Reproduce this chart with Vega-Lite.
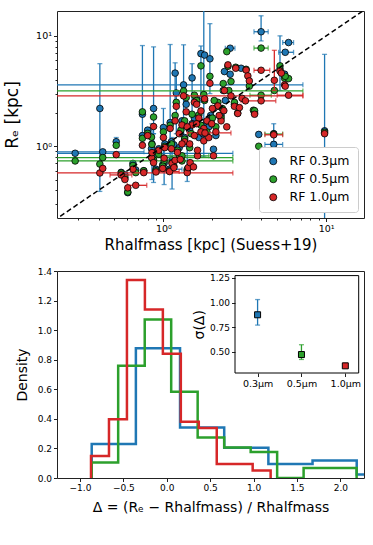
{
"$schema":"https://vega.github.io/schema/vega-lite/v6.json",
"padding":{"left":3,"top":10,"right":5,"bottom":5},
"config":{"font":"DejaVu Sans","view":{"stroke":"#222"},"axis":{"grid":false,"domain":false,"tickColor":"#222","labelColor":"#000","titleColor":"#000","titleFontWeight":"normal","labelFontSize":9,"tickSize":3.5,"labelPadding":2}},
"datasets":{
"blue":[
{"x":0.287,"y":0.864,"xl":0.15,"xh":2.67},{"x":0.424,"y":0.89,"xl":0.15,"xh":0.76},{"x":0.407,"y":2.2,"yl":0.39,"yh":5.6},{"x":0.513,"y":1.10,"yl":0.98,"yh":1.2},{"x":0.55,"y":0.58},{"x":0.604,"y":0.38},{"x":0.58,"y":0.55},{"x":0.65,"y":0.7},{"x":0.676,"y":0.61},{"x":0.757,"y":0.6},{"x":0.743,"y":1.95,"yl":1.0,"yh":8.17},{"x":0.743,"y":1.25},{"x":0.87,"y":2.2,"yl":1.3,"yh":7.95},{"x":0.8,"y":1.4},{"x":0.845,"y":0.95},{"x":0.85,"y":1.05,"yl":0.5,"yh":1.6},{"x":0.87,"y":0.8,"yl":0.47,"yh":1.3},{"x":0.9,"y":0.62},{"x":0.936,"y":0.95},{"x":1.0,"y":1.48,"yl":0.6,"yh":2.2},{"x":1.02,"y":1.05},{"x":1.01,"y":0.7,"yl":0.45,"yh":1.0},{"x":0.99,"y":0.68},{"x":1.09,"y":0.62,"xl":0.9,"xh":1.3},{"x":1.10,"y":1.64,"yl":0.8,"yh":8.35},{"x":1.13,"y":0.75,"yl":0.41,"yh":1.2},{"x":1.16,"y":1.03},{"x":1.18,"y":4.6,"yl":2.5,"yh":5.7},{"x":1.20,"y":3.04,"yl":1.3,"yh":4.6},{"x":1.22,"y":0.93},{"x":1.25,"y":0.97},{"x":1.30,"y":1.7},{"x":1.33,"y":3.6,"xl":0.15,"xh":7.19,"yl":1.0,"yh":8.3},{"x":1.35,"y":1.2},{"x":1.38,"y":2.4},{"x":1.40,"y":0.62,"yl":0.48,"yh":1.0},{"x":1.50,"y":4.16,"yl":1.6,"yh":5.6},{"x":1.55,"y":1.8},{"x":1.60,"y":2.7},{"x":1.70,"y":6.9,"yl":2.5,"yh":8.1},{"x":1.77,"y":1.55,"yl":0.8,"yh":20},{"x":1.79,"y":6.7},{"x":1.93,"y":6.2,"yl":3.0,"yh":12.9},{"x":2.03,"y":0.94},{"x":1.95,"y":1.9},{"x":2.16,"y":2.3},{"x":2.26,"y":1.9},{"x":2.33,"y":3.2},{"x":2.37,"y":4.75},{"x":2.57,"y":7.73,"xl":2.4,"xh":2.75},{"x":2.57,"y":4.49},{"x":2.73,"y":2.4},{"x":3.0,"y":5.09},{"x":3.63,"y":2.0},{"x":3.85,"y":1.28},{"x":3.98,"y":10.9,"xl":3.6,"xh":4.4,"yl":9.0,"yh":15.2},{"x":4.76,"y":1.30,"yl":1.1,"yh":1.6},{"x":4.76,"y":1.04,"xl":4.2,"xh":5.4},{"x":5.2,"y":5.0,"yl":3.2,"yh":10.0},{"x":5.55,"y":4.5},{"x":5.87,"y":8.7,"xl":5.4,"xh":6.3},{"x":5.6,"y":7.1,"xl":5.1,"xh":6.3},{"x":9.77,"y":1.38,"yl":0.15,"yh":6.8},{"x":1.45,"y":1.4},{"x":1.65,"y":1.2},{"x":1.9,"y":1.5},{"x":2.1,"y":1.25},{"x":1.12,"y":1.1},{"x":1.5,"y":1.6},{"x":1.75,"y":1.3},{"x":2.4,"y":2.6}
],
"green":[
{"x":0.287,"y":0.736,"xl":0.15,"xh":2.67},{"x":0.424,"y":0.79,"xl":0.15,"xh":2.67},{"x":0.407,"y":0.69},{"x":0.513,"y":1.02},{"x":0.55,"y":0.573},{"x":0.604,"y":0.385},{"x":0.58,"y":0.52},{"x":0.65,"y":0.67},{"x":0.676,"y":0.577},{"x":0.757,"y":0.6},{"x":0.743,"y":2.05},{"x":0.743,"y":1.18},{"x":0.87,"y":1.84},{"x":0.8,"y":1.31},{"x":0.845,"y":1.21},{"x":0.85,"y":1.04},{"x":0.87,"y":0.75},{"x":0.9,"y":0.6},{"x":0.936,"y":0.846},{"x":1.0,"y":1.35},{"x":1.02,"y":1.0},{"x":1.01,"y":0.74},{"x":0.99,"y":0.66},{"x":1.09,"y":0.6},{"x":1.10,"y":1.55},{"x":1.13,"y":0.71},{"x":1.16,"y":0.66},{"x":1.18,"y":1.9},{"x":1.20,"y":2.5},{"x":1.22,"y":0.92},{"x":1.25,"y":0.78},{"x":1.30,"y":0.736},{"x":1.33,"y":3.17,"xl":0.15,"xh":7.19},{"x":1.35,"y":1.16},{"x":1.38,"y":2.76},{"x":1.40,"y":0.6},{"x":1.45,"y":0.97},{"x":1.50,"y":1.95},{"x":1.55,"y":2.9},{"x":1.60,"y":2.6},{"x":1.65,"y":1.92},{"x":1.70,"y":5.35},{"x":1.77,"y":2.94},{"x":1.79,"y":2.6},{"x":1.93,"y":4.3},{"x":1.95,"y":1.7},{"x":2.0,"y":1.8},{"x":2.1,"y":1.5},{"x":2.16,"y":2.5},{"x":2.26,"y":1.8},{"x":2.33,"y":3.7},{"x":2.45,"y":7.2},{"x":2.49,"y":5.3},{"x":2.52,"y":3.2},{"x":2.6,"y":3.86},{"x":2.73,"y":2.5},{"x":2.78,"y":5.2},{"x":2.86,"y":2.0},{"x":3.22,"y":4.98},{"x":3.37,"y":3.5},{"x":3.57,"y":2.12},{"x":3.98,"y":7.75,"xl":3.6,"xh":4.4},{"x":3.98,"y":2.9,"xl":3.4,"xh":4.6},{"x":3.85,"y":1.0},{"x":4.76,"y":1.29,"xl":4.2,"xh":5.4},{"x":4.8,"y":3.2},{"x":5.2,"y":5.35},{"x":5.55,"y":4.13},{"x":5.87,"y":4.1},{"x":5.6,"y":4.3},{"x":9.77,"y":1.34},{"x":3.63,"y":2.1},{"x":1.12,"y":1.05},{"x":1.28,"y":1.4},{"x":1.48,"y":1.3},{"x":1.7,"y":1.55},{"x":1.85,"y":1.35},{"x":2.3,"y":2.2},{"x":2.05,"y":2.6},{"x":1.35,"y":1.7},{"x":1.3,"y":0.82,"xl":0.9,"xh":1.9}
],
"red":[
{"x":0.407,"y":0.573,"xl":0.15,"xh":2.67},{"x":0.424,"y":0.63},{"x":0.513,"y":0.84},{"x":0.55,"y":0.55,"xl":0.47,"xh":0.64},{"x":0.604,"y":0.42},{"x":0.58,"y":0.50},{"x":0.65,"y":0.62},{"x":0.676,"y":0.443,"xl":0.6,"xh":0.79},{"x":0.757,"y":0.577},{"x":0.743,"y":1.02},{"x":0.87,"y":1.51},{"x":0.8,"y":1.25},{"x":0.845,"y":0.79},{"x":0.85,"y":0.876},{"x":0.87,"y":0.71},{"x":0.9,"y":0.585},{"x":0.936,"y":0.92},{"x":1.0,"y":1.2},{"x":1.02,"y":0.972},{"x":1.01,"y":0.78},{"x":0.99,"y":0.63},{"x":1.09,"y":0.59,"xl":0.92,"xh":1.25},{"x":1.10,"y":1.45},{"x":1.13,"y":0.70},{"x":1.16,"y":0.641},{"x":1.18,"y":1.7},{"x":1.18,"y":0.746},{"x":1.20,"y":2.3},{"x":1.22,"y":0.88},{"x":1.27,"y":0.76},{"x":1.30,"y":1.56},{"x":1.33,"y":2.86,"xl":0.15,"xh":7.19},{"x":1.35,"y":1.1},{"x":1.38,"y":2.05},{"x":1.40,"y":0.577},{"x":1.42,"y":0.641},{"x":1.46,"y":0.71},{"x":1.50,"y":1.56},{"x":1.53,"y":0.65},{"x":1.55,"y":2.5},{"x":1.60,"y":2.4},{"x":1.62,"y":0.82},{"x":1.62,"y":0.92},{"x":1.65,"y":1.8},{"x":1.70,"y":2.09},{"x":1.77,"y":1.45},{"x":1.77,"y":1.12},{"x":1.79,"y":2.69},{"x":1.85,"y":1.7},{"x":1.93,"y":3.72},{"x":1.98,"y":1.6},{"x":2.03,"y":0.82},{"x":2.1,"y":1.35},{"x":2.16,"y":2.32},{"x":2.26,"y":1.7},{"x":2.37,"y":3.2},{"x":2.45,"y":1.5},{"x":2.49,"y":5.46},{"x":2.6,"y":2.86},{"x":2.73,"y":2.3},{"x":2.78,"y":5.09},{"x":2.86,"y":1.98},{"x":2.93,"y":2.24},{"x":3.04,"y":2.72},{"x":3.19,"y":2.58},{"x":3.22,"y":4.9},{"x":3.3,"y":4.34},{"x":3.37,"y":3.91},{"x":3.63,"y":1.95},{"x":3.98,"y":4.88,"xl":3.6,"xh":4.5},{"x":3.98,"y":2.58,"xl":3.0,"xh":4.9},{"x":4.76,"y":1.27,"xl":4.2,"xh":5.4},{"x":4.8,"y":3.96,"yl":3.2,"yh":7.4},{"x":5.2,"y":4.8},{"x":5.3,"y":4.6},{"x":5.55,"y":3.6},{"x":5.6,"y":3.5},{"x":5.87,"y":2.9,"xl":5.0,"xh":7.19},{"x":9.77,"y":1.30},{"x":1.12,"y":0.95},{"x":1.25,"y":1.3},{"x":1.4,"y":1.5},{"x":1.55,"y":1.25},{"x":1.7,"y":1.35},{"x":1.9,"y":1.2},{"x":2.2,"y":1.9},{"x":2.35,"y":2.1},{"x":1.45,"y":1.05},{"x":1.6,"y":1.6},{"x":1.3,"y":1.05},{"x":2.0,"y":2.2},{"x":1.8,"y":1.32,"xl":1.4,"xh":2.6}
],
"diag":[{"v":0.1},{"v":30}],
"hist":[
{"band":"0.3μm","d":-0.865,"h":0},{"band":"0.3μm","d":-0.865,"h":0.23},{"band":"0.3μm","d":-0.356,"h":0.877},{"band":"0.3μm","d":0.153,"h":0.342},{"band":"0.3μm","d":0.662,"h":0.204},{"band":"0.3μm","d":1.171,"h":0.095},{"band":"0.3μm","d":1.68,"h":0.118},{"band":"0.3μm","d":2.189,"h":0.023},{"band":"0.3μm","d":2.698,"h":0},
{"band":"0.5μm","d":-0.865,"h":0},{"band":"0.5μm","d":-0.865,"h":0.104},{"band":"0.5μm","d":-0.56,"h":0.76},{"band":"0.5μm","d":-0.254,"h":1.072},{"band":"0.5μm","d":0.051,"h":0.584},{"band":"0.5μm","d":0.356,"h":0.274},{"band":"0.5μm","d":0.662,"h":0.206},{"band":"0.5μm","d":0.967,"h":0.176},{"band":"0.5μm","d":1.272,"h":0},{"band":"0.5μm","d":1.577,"h":0.068},{"band":"0.5μm","d":1.883,"h":0.068},{"band":"0.5μm","d":2.188,"h":0},
{"band":"1.0μm","d":-0.873,"h":0},{"band":"1.0μm","d":-0.873,"h":0.149},{"band":"1.0μm","d":-0.666,"h":0.398},{"band":"1.0μm","d":-0.459,"h":1.339},{"band":"1.0μm","d":-0.252,"h":1.14},{"band":"1.0μm","d":-0.045,"h":0.841},{"band":"1.0μm","d":0.162,"h":0.38},{"band":"1.0μm","d":0.369,"h":0.339},{"band":"1.0μm","d":0.576,"h":0.095},{"band":"1.0μm","d":0.783,"h":0.095},{"band":"1.0μm","d":0.99,"h":0.05},{"band":"1.0μm","d":1.197,"h":0}
],
"sig":[{"band":"0.3μm","s":0.875,"lo":0.77,"hi":1.03},{"band":"0.5μm","s":0.47,"lo":0.42,"hi":0.57},{"band":"1.0μm","s":0.355,"lo":0.34,"hi":0.38}]
},
"vconcat":[
{"width":307,"height":207,
"layer":[
{"data":{"name":"blue"},"transform":[{"filter":"isValid(datum.yl)"}],"mark":{"type":"errorbar","orient":"vertical","ticks":{"size":5},"thickness":1.3,"color":"#1f77b4","clip":true},
 "encoding":{"x":{"field":"x","type":"quantitative","scale":{"type":"log","domain":[0.222,17.06],"nice":false},"title":"Rhalfmass [kpc] (Suess+19)","axis":{"values":[0.3,0.4,0.5,0.6,0.7,0.8,0.9,1,2,3,4,5,6,7,8,9,10],"labelExpr":"datum.value==1?'10⁰':datum.value==10?'10¹':''","tickSize":{"condition":{"test":"datum.value==1||datum.value==10","value":3.5},"value":2},"labelOverlap":false,"titleFontSize":15,"titlePadding":4,"labelFontSize":9.5}},
 "y":{"field":"yl","type":"quantitative","scale":{"type":"log","domain":[0.224,16.8],"nice":false},"title":"Rₑ [kpc]","axis":{"values":[0.3,0.4,0.5,0.6,0.7,0.8,0.9,1,2,3,4,5,6,7,8,9,10],"labelExpr":"datum.value==1?'10⁰':datum.value==10?'10¹':''","tickSize":{"condition":{"test":"datum.value==1||datum.value==10","value":3.5},"value":2},"labelOverlap":false,"titleFontSize":17,"titlePadding":14,"labelFontSize":9.5}},
 "y2":{"field":"yh"}}},
{"data":{"name":"blue"},"transform":[{"filter":"isValid(datum.xl)"}],"mark":{"type":"errorbar","orient":"horizontal","ticks":{"size":5},"thickness":1.3,"color":"#1f77b4","clip":true},
 "encoding":{"x":{"field":"xl","type":"quantitative","scale":{"type":"log","domain":[0.222,17.06],"nice":false},"title":"Rhalfmass [kpc] (Suess+19)"},"x2":{"field":"xh"},"y":{"field":"y","type":"quantitative","scale":{"type":"log","domain":[0.224,16.8],"nice":false},"title":"Rₑ [kpc]"}}},
{"data":{"name":"blue"},"mark":{"type":"point","shape":"circle","filled":true,"size":44,"stroke":"black","strokeWidth":0.8,"opacity":1},
 "encoding":{"x":{"field":"x","type":"quantitative","scale":{"type":"log","domain":[0.222,17.06],"nice":false},"title":"Rhalfmass [kpc] (Suess+19)"},"y":{"field":"y","type":"quantitative","scale":{"type":"log","domain":[0.224,16.8],"nice":false},"title":"Rₑ [kpc]"},
 "color":{"datum":"RF 0.3μm","type":"nominal","scale":{"domain":["RF 0.3μm","RF 0.5μm","RF 1.0μm"],"range":["#1f77b4","#2ca02c","#d62728"]},"legend":{"orient":"bottom-right","offset":6,"title":null,"labelFontSize":12.5,"symbolType":"circle","symbolSize":50,"symbolStrokeColor":"black","symbolStrokeWidth":0.8,"strokeColor":"#ccc","fillColor":"white","padding":8,"cornerRadius":3,"rowPadding":5,"labelOffset":10}}}},
{"data":{"name":"green"},"transform":[{"filter":"isValid(datum.yl)"}],"mark":{"type":"errorbar","orient":"vertical","ticks":{"size":5},"thickness":1.3,"color":"#2ca02c","clip":true},
 "encoding":{"x":{"field":"x","type":"quantitative","scale":{"type":"log","domain":[0.222,17.06],"nice":false},"title":"Rhalfmass [kpc] (Suess+19)"},"y":{"field":"yl","type":"quantitative","scale":{"type":"log","domain":[0.224,16.8],"nice":false},"title":"Rₑ [kpc]"},"y2":{"field":"yh"}}},
{"data":{"name":"green"},"transform":[{"filter":"isValid(datum.xl)"}],"mark":{"type":"errorbar","orient":"horizontal","ticks":{"size":5},"thickness":1.3,"color":"#2ca02c","clip":true},
 "encoding":{"x":{"field":"xl","type":"quantitative","scale":{"type":"log","domain":[0.222,17.06],"nice":false},"title":"Rhalfmass [kpc] (Suess+19)"},"x2":{"field":"xh"},"y":{"field":"y","type":"quantitative","scale":{"type":"log","domain":[0.224,16.8],"nice":false},"title":"Rₑ [kpc]"}}},
{"data":{"name":"green"},"mark":{"type":"point","shape":"circle","filled":true,"size":44,"stroke":"black","strokeWidth":0.8,"opacity":1},
 "encoding":{"x":{"field":"x","type":"quantitative","scale":{"type":"log","domain":[0.222,17.06],"nice":false},"title":"Rhalfmass [kpc] (Suess+19)"},"y":{"field":"y","type":"quantitative","scale":{"type":"log","domain":[0.224,16.8],"nice":false},"title":"Rₑ [kpc]"},
 "color":{"datum":"RF 0.5μm","type":"nominal"}}},
{"data":{"name":"red"},"transform":[{"filter":"isValid(datum.yl)"}],"mark":{"type":"errorbar","orient":"vertical","ticks":{"size":5},"thickness":1.3,"color":"#d62728","clip":true},
 "encoding":{"x":{"field":"x","type":"quantitative","scale":{"type":"log","domain":[0.222,17.06],"nice":false},"title":"Rhalfmass [kpc] (Suess+19)"},"y":{"field":"yl","type":"quantitative","scale":{"type":"log","domain":[0.224,16.8],"nice":false},"title":"Rₑ [kpc]"},"y2":{"field":"yh"}}},
{"data":{"name":"red"},"transform":[{"filter":"isValid(datum.xl)"}],"mark":{"type":"errorbar","orient":"horizontal","ticks":{"size":5},"thickness":1.3,"color":"#d62728","clip":true},
 "encoding":{"x":{"field":"xl","type":"quantitative","scale":{"type":"log","domain":[0.222,17.06],"nice":false},"title":"Rhalfmass [kpc] (Suess+19)"},"x2":{"field":"xh"},"y":{"field":"y","type":"quantitative","scale":{"type":"log","domain":[0.224,16.8],"nice":false},"title":"Rₑ [kpc]"}}},
{"data":{"name":"red"},"mark":{"type":"point","shape":"circle","filled":true,"size":44,"stroke":"black","strokeWidth":0.8,"opacity":1},
 "encoding":{"x":{"field":"x","type":"quantitative","scale":{"type":"log","domain":[0.222,17.06],"nice":false},"title":"Rhalfmass [kpc] (Suess+19)"},"y":{"field":"y","type":"quantitative","scale":{"type":"log","domain":[0.224,16.8],"nice":false},"title":"Rₑ [kpc]"},
 "color":{"datum":"RF 1.0μm","type":"nominal"}}},
{"data":{"name":"diag"},"mark":{"type":"line","strokeDash":[5,3],"color":"black","strokeWidth":1.5,"clip":true},
 "encoding":{"x":{"field":"v","type":"quantitative","scale":{"type":"log","domain":[0.222,17.06],"nice":false},"title":"Rhalfmass [kpc] (Suess+19)"},"y":{"field":"v","type":"quantitative","scale":{"type":"log","domain":[0.224,16.8],"nice":false},"title":"Rₑ [kpc]"}}}
]},
{"width":307,"height":207,
"layer":[
{"data":{"name":"hist"},"mark":{"type":"line","interpolate":"step-after","strokeWidth":2.5,"clip":true},
 "encoding":{"x":{"field":"d","type":"quantitative","scale":{"domain":[-1.265,2.273],"nice":false,"zero":false},"title":"Δ = (Rₑ − Rhalfmass) / Rhalfmass","axis":{"values":[-1,-0.5,0,0.5,1,1.5,2],"format":".1f","titleFontSize":14,"titlePadding":8}},
 "y":{"field":"h","type":"quantitative","scale":{"domain":[0,1.4],"nice":false},"title":"Density","axis":{"values":[0,0.2,0.4,0.6,0.8,1.0,1.2,1.4],"format":".1f","titleFontSize":14,"titlePadding":8}},
 "color":{"field":"band","type":"nominal","scale":{"domain":["0.3μm","0.5μm","1.0μm"],"range":["#1f77b4","#2ca02c","#d62728"]},"legend":null},
 "order":{"value":null}}},
{"data":{"name":"sig"},
 "encoding":{"x":{"field":"band","type":"nominal","scale":{"type":"point","range":[178,301.7],"padding":0.41,"align":0.628},"title":null,"axis":{"orient":"bottom","offset":-105,"labelAngle":0,"domain":false,"labelFontSize":9.5}},
 "color":{"field":"band","type":"nominal","scale":{"domain":["0.3μm","0.5μm","1.0μm"],"range":["#1f77b4","#2ca02c","#d62728"]},"legend":null}},
 "layer":[
 {"mark":{"type":"errorbar","ticks":{"size":5},"thickness":1.3},"encoding":{"y":{"field":"lo","type":"quantitative","scale":{"domain":[0.282,1.274],"range":[102,4.6],"nice":false,"zero":false},"title":"σ(Δ)","axis":{"orient":"left","offset":-178,"values":[0.5,0.75,1.0,1.25],"format":".2f","titleFontSize":14,"titlePadding":3,"domain":false}},"y2":{"field":"hi"}}},
 {"mark":{"type":"point","shape":"square","filled":true,"size":36,"stroke":"black","strokeWidth":1,"opacity":1},"encoding":{"y":{"field":"s","type":"quantitative","title":"σ(Δ)"}}}
 ]},
{"data":{"values":[{"f":1}]},"mark":{"type":"rect","fillOpacity":0,"stroke":"black","strokeWidth":1},
 "encoding":{"x":{"datum":0,"type":"quantitative","scale":{"domain":[0,1],"range":[178,301.7],"nice":false},"axis":null},"x2":{"datum":1},"y":{"datum":0,"type":"quantitative","scale":{"domain":[0,1],"range":[102,4.6],"nice":false},"axis":null},"y2":{"datum":1}}}
],
"resolve":{"scale":{"x":"independent","y":"independent"},"axis":{"x":"independent","y":"independent"}}}
],
"spacing":13,
"resolve":{"scale":{"color":"independent"},"legend":{"color":"independent"}}
}
